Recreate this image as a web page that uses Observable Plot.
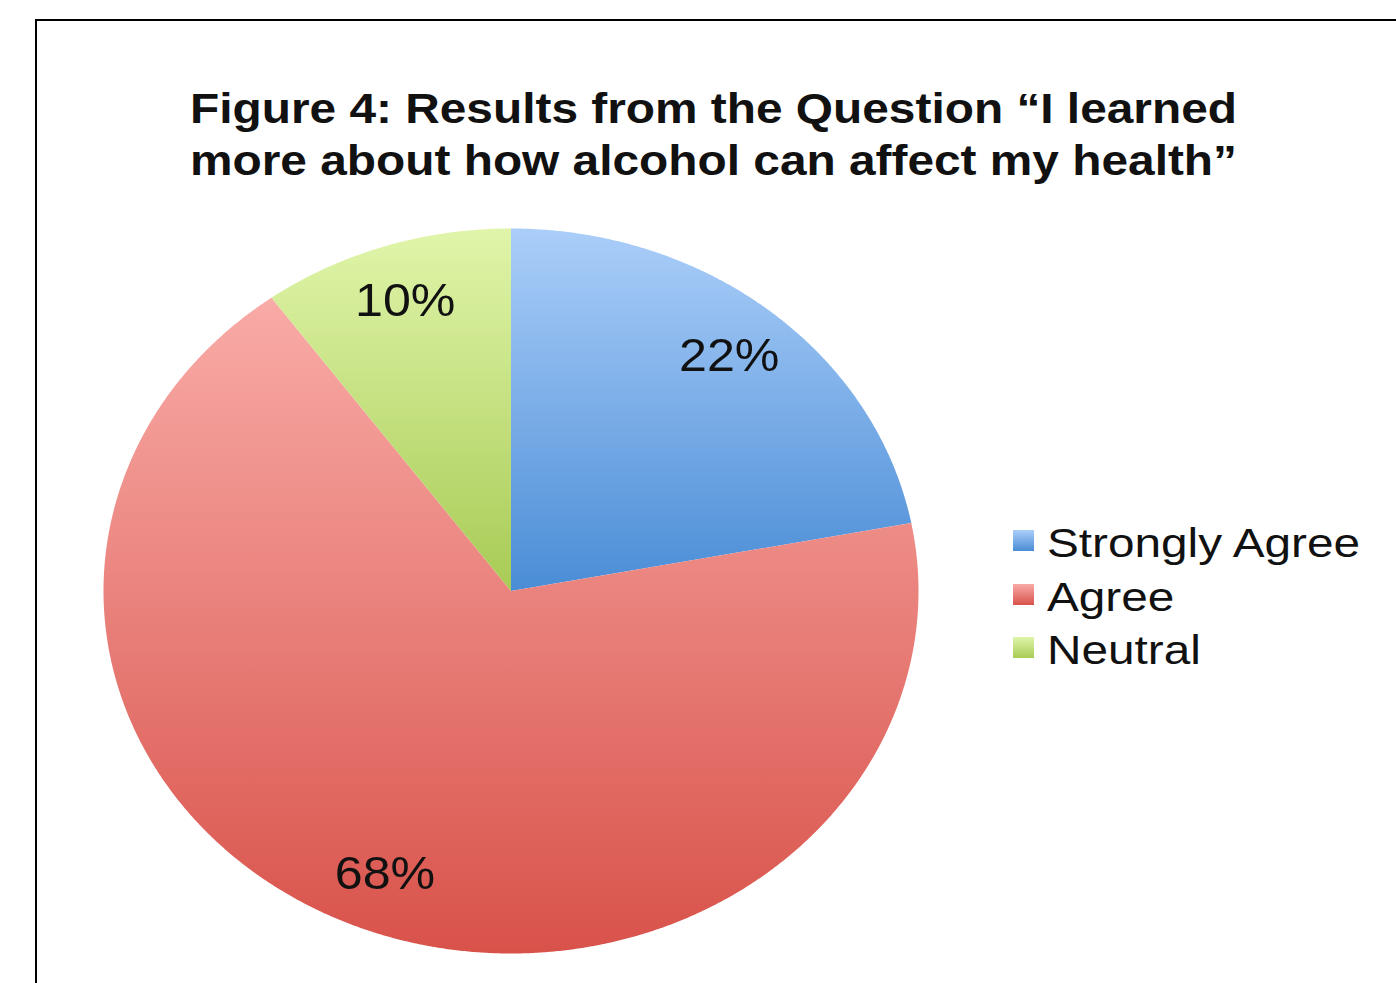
<!DOCTYPE html>
<html><head><meta charset="utf-8">
<script src="https://cdn.jsdelivr.net/npm/d3@7"></script>
<script src="https://cdn.jsdelivr.net/npm/@observablehq/plot@0.6"></script>
<style>
html,body{margin:0;padding:0;background:#fff;}
body{width:1396px;height:983px;overflow:hidden;position:relative;font-family:"Liberation Sans",Arial,Helvetica,sans-serif;}
#frame{position:absolute;left:35px;top:19px;width:1500px;height:1100px;border:2.5px solid #000;box-sizing:border-box;}
#chart{position:absolute;left:0;top:0;}
.title{position:absolute;left:190px;font-weight:bold;font-size:42px;line-height:1;white-space:nowrap;transform-origin:0 0;color:#111;}
.legrow{position:absolute;left:1013px;height:44px;white-space:nowrap;}
.legsw{position:absolute;left:0;width:21px;height:21px;}
.legtx{position:absolute;left:34px;font-size:40px;line-height:1;color:#111;transform-origin:0 0;}
</style>
</head><body>
<div id="frame"></div>
<div id="chart"></div>
<div id="title"></div>
<div id="legend"></div>
<script>
// ---- data ----
const categories = ["Strongly Agree", "Agree", "Neutral"];
const values = [22, 68, 10];
const valueLabels = ["22%", "68%", "10%"];
const titleLines = ["Figure 4: Results from the Question \u201CI learned", "more about how alcohol can affect my health\u201D"];

// ---- styles ----
const gradStops = [["#abcef9", "#4a8dd6"], ["#f9aba7", "#d8524a"], ["#e0f5aa", "#a8cb55"]];

const table = categories.map((c, i) => ({category: c, value: values[i], label: valueLabels[i], idx: i}));
const arcs = d3.pie().sort(null).value(d => d.value)(table);

function slicePoints(a) {
  const pts = [{x: 0, y: 0}];
  const n = Math.max(8, Math.ceil((a.endAngle - a.startAngle) / 0.005));
  for (let k = 0; k <= n; k++) {
    const t = a.startAngle + (a.endAngle - a.startAngle) * k / n;
    pts.push({x: Math.sin(t), y: -Math.cos(t)});
  }
  pts.push({x: 0, y: 0});
  return pts;
}
const labelR = 0.84;
const labelData = arcs.map(a => {
  const m = (a.startAngle + a.endAngle) / 2;
  return {x: labelR * Math.sin(m), y: -labelR * Math.cos(m), text: a.data.label};
});

const chart = Plot.plot({
  width: 1396, height: 983, margin: 0,
  style: {fontFamily: "Liberation Sans, Arial, sans-serif", background: "transparent"},
  x: {domain: [-1, 1], range: [103, 918], axis: null},
  y: {domain: [-1, 1], range: [228, 953], axis: null},
  marks: [
    ...arcs.map(a => Plot.line(slicePoints(a), {x: "x", y: "y", fill: `url(#grad${a.data.idx})`, stroke: "none"})),
    Plot.text(labelData, {x: "x", y: "y", text: "text", fontSize: 46, fill: "#111", className: "vlabels"})
  ]
});

// gradients
const ns = "http://www.w3.org/2000/svg";
const defs = document.createElementNS(ns, "defs");
gradStops.forEach((s, i) => {
  const g = document.createElementNS(ns, "linearGradient");
  g.setAttribute("id", "grad" + i);
  g.setAttribute("x1", "0"); g.setAttribute("y1", "0"); g.setAttribute("x2", "0"); g.setAttribute("y2", "1");
  s.forEach((c, j) => {
    const st = document.createElementNS(ns, "stop");
    st.setAttribute("offset", j === 0 ? "0" : "1");
    st.setAttribute("stop-color", c);
    g.appendChild(st);
  });
  defs.appendChild(g);
});
chart.insertBefore(defs, chart.firstChild);
document.getElementById("chart").appendChild(chart);

// stretch value labels horizontally
const labelSx = 1.09;
chart.querySelectorAll(".vlabels text").forEach(t => {
  const w = t.getComputedTextLength();
  t.setAttribute("textLength", (w * labelSx).toFixed(1));
  t.setAttribute("lengthAdjust", "spacingAndGlyphs");
});

// title
const titleEl = document.getElementById("title");
const titleTops = [88, 140];
titleLines.forEach((line, i) => {
  const d = document.createElement("div");
  d.className = "title";
  d.textContent = line;
  d.style.top = titleTops[i] + "px";
  titleEl.appendChild(d);
  const w = d.getBoundingClientRect().width;
  d.style.transform = `scaleX(${1047 / w})`;
});

// legend
const legEl = document.getElementById("legend");
const legTops = [523, 577, 630];
let legSx = null;
categories.forEach((c, i) => {
  const row = document.createElement("div");
  row.className = "legrow";
  row.style.top = legTops[i] + "px";
  const sw = document.createElement("div");
  sw.className = "legsw";
  sw.style.top = "7px";
  sw.style.background = `linear-gradient(${gradStops[i][0]}, ${gradStops[i][1]})`;
  const tx = document.createElement("div");
  tx.className = "legtx";
  tx.textContent = c;
  row.appendChild(sw); row.appendChild(tx);
  legEl.appendChild(row);
  const w = tx.getBoundingClientRect().width;
  if (legSx === null) legSx = 313 / w;
  tx.style.transform = `scaleX(${legSx})`;
});
</script>
</body></html>
